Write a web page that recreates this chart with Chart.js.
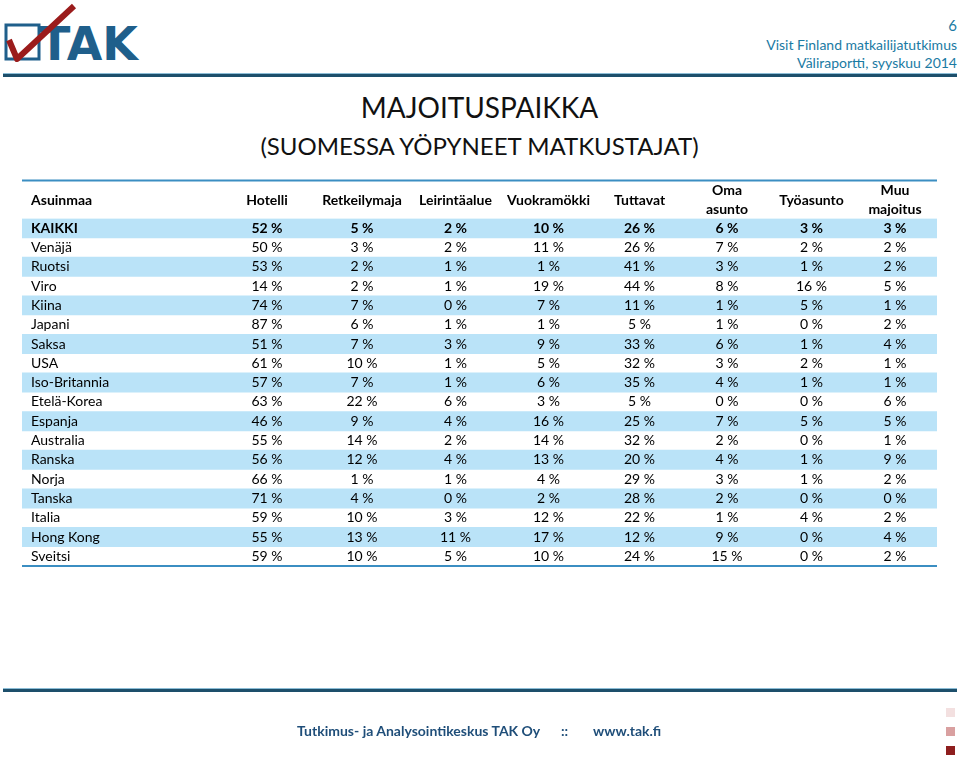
<!DOCTYPE html>
<html>
<head>
<meta charset="utf-8">
<script src="https://cdn.jsdelivr.net/npm/chart.js@4.4.1/dist/chart.umd.min.js"></script>
<style>
  body { margin: 0; background: #fff; width: 959px; height: 760px; position: relative; overflow: hidden; font-family: Lato, "Open Sans", sans-serif; }
  #taulu { position: absolute; left: 0; top: 0; }
  .abs { position: absolute; white-space: nowrap; }
  .topline { left: 3px; width: 954px; top: 73px; height: 3px; background: #1d4f6b; border-top: 1px solid #8cbdd6; }
  .botline { left: 3px; width: 954px; top: 688px; height: 3px; background: #1d4f6b; border-top: 1px solid #8cbdd6; }
  .hdr { right: 2px; text-align: right; color: #1a7aa3; font-size: 14px; line-height: 18px; }
  .title { left: 0; width: 959px; text-align: center; color: #111; }
  .foot { top: 722px; color: #1f4e79; font-weight: bold; font-size: 14px; }
  .sq { width: 9px; height: 9px; left: 946px; }
</style>
</head>
<body>
<svg class="abs" style="left:0;top:0" width="150" height="70">
  <rect x="6" y="25" width="33" height="34" fill="none" stroke="#1f5f8b" stroke-width="3"/>
  <text x="39" y="60" font-family="DejaVu Sans" font-weight="bold" font-size="46" fill="#1f5f8b" textLength="99" lengthAdjust="spacingAndGlyphs">TAK</text>
  <path d="M9 40 L17 59 L74 6" fill="none" stroke="#9b1c1c" stroke-width="6" stroke-linejoin="round"/>
</svg>
<div class="abs hdr" style="top:16px;font-size:15px">6</div>
<div class="abs hdr" style="top:36px">Visit Finland matkailijatutkimus</div>
<div class="abs hdr" style="top:54px">Väliraportti, syyskuu 2014</div>
<div class="abs topline"></div>
<div class="abs title" style="top:90px;font-size:28px">MAJOITUSPAIKKA</div>
<div class="abs title" style="top:131px;font-size:24px">(SUOMESSA YÖPYNEET MATKUSTAJAT)</div>
<canvas id="taulu" width="959" height="760"></canvas>
<div class="abs botline"></div>
<div class="abs foot" style="left:297px">Tutkimus- ja Analysointikeskus TAK Oy</div>
<div class="abs foot" style="left:561px">::</div>
<div class="abs foot" style="left:593px">www.tak.fi</div>
<div class="abs sq" style="top:708px;background:#f3e0e0"></div>
<div class="abs sq" style="top:727px;background:#d9a0a0"></div>
<div class="abs sq" style="top:746px;background:#8e1e1e"></div>
<script>
const otsikko = 'Asuinmaa';
const sarakkeet = ['Hotelli', 'Retkeilymaja', 'Leirintäalue', 'Vuokramökki', 'Tuttavat', 'Oma\nasunto', 'Työasunto', 'Muu\nmajoitus'];
const maat = ['KAIKKI', 'Venäjä', 'Ruotsi', 'Viro', 'Kiina', 'Japani', 'Saksa', 'USA', 'Iso-Britannia',
  'Etelä-Korea', 'Espanja', 'Australia', 'Ranska', 'Norja', 'Tanska', 'Italia', 'Hong Kong', 'Sveitsi'];

const hotelli      = [52, 50, 53, 14, 74, 87, 51, 61, 57, 63, 46, 55, 56, 66, 71, 59, 55, 59];
const retkeilymaja = [5, 3, 2, 2, 7, 6, 7, 10, 7, 22, 9, 14, 12, 1, 4, 10, 13, 10];
const leirintaalue = [2, 2, 1, 1, 0, 1, 3, 1, 1, 6, 4, 2, 4, 1, 0, 3, 11, 5];
const vuokramokki  = [10, 11, 1, 19, 7, 1, 9, 5, 6, 3, 16, 14, 13, 4, 2, 12, 17, 10];
const tuttavat     = [26, 26, 41, 44, 11, 5, 33, 32, 35, 5, 25, 32, 20, 29, 28, 22, 12, 24];
const omaAsunto    = [6, 7, 3, 8, 1, 1, 6, 3, 4, 0, 7, 2, 4, 3, 2, 1, 9, 15];
const tyoasunto    = [3, 2, 1, 16, 5, 0, 1, 2, 1, 0, 5, 0, 1, 1, 0, 4, 0, 0];
const muuMajoitus  = [3, 2, 2, 5, 1, 2, 4, 1, 1, 6, 5, 1, 9, 2, 0, 2, 4, 2];

const arvot = [hotelli, retkeilymaja, leirintaalue, vuokramokki, tuttavat, omaAsunto, tyoasunto, muuMajoitus];

// sarakkeiden leveydet (ensimmäinen = maasarake), x-akseli kulkee näissä yksiköissä
const leveydet = [197, 96, 94, 93, 93, 89, 86, 83, 84];
const reunat = [0];
leveydet.forEach(function(w, i) { reunat.push(reunat[i] + w); });
const keskikohta = function(k) { return (reunat[k] + reunat[k + 1]) / 2; };

const taulukko = {
  id: 'taulukko',
  afterDatasetsDraw(chart) {
    const ctx = chart.ctx;
    const area = chart.chartArea;
    const x = chart.scales.x, y = chart.scales.y;
    ctx.save();

    // viivat
    ctx.strokeStyle = '#3b8ec2';
    ctx.lineWidth = 2;
    ctx.beginPath();
    ctx.moveTo(area.left, area.top - 38); ctx.lineTo(area.right, area.top - 38);
    ctx.moveTo(area.left, area.bottom); ctx.lineTo(area.right, area.bottom);
    ctx.stroke();

    // otsikkorivi
    const hy = area.top - 18.5;
    ctx.fillStyle = '#000';
    ctx.textBaseline = 'middle';
    ctx.font = 'bold 14px Lato';
    ctx.textAlign = 'left';
    ctx.fillText(otsikko, area.left + 9, hy);
    ctx.textAlign = 'center';
    sarakkeet.forEach(function(s, k) {
      const px = x.getPixelForValue(keskikohta(k + 1));
      const rivit = s.split('\n');
      if (rivit.length == 1) ctx.fillText(s, px, hy);
      else {
        ctx.fillText(rivit[0], px, hy - 9.5);
        ctx.fillText(rivit[1], px, hy + 9.5);
      }
    });

    // tietorivit
    maat.forEach(function(maa, i) {
      const py = y.getPixelForValue(i);
      ctx.font = (i == 0 ? 'bold ' : '') + '14px Lato';
      ctx.textAlign = 'left';
      ctx.fillText(maa, area.left + 9, py);
      ctx.textAlign = 'center';
      arvot.forEach(function(sarja, k) {
        ctx.fillText(sarja[i] + ' %', x.getPixelForValue(keskikohta(k + 1)), py);
      });
    });
    ctx.restore();
  }
};

new Chart(document.getElementById('taulu'), {
  type: 'bar',
  data: {
    labels: maat,
    datasets: [{
      data: maat.map(function(m, i) { return i % 2 == 0 ? [0, reunat[reunat.length - 1]] : null; }),
      backgroundColor: '#bae3f8',
      borderWidth: 0,
      barPercentage: 1,
      categoryPercentage: 1
    }]
  },
  options: {
    indexAxis: 'y',
    responsive: false,
    animation: false,
    layout: { padding: { left: 22, right: 22, top: 218.5, bottom: 194 } },
    scales: {
      x: { type: 'linear', min: 0, max: reunat[reunat.length - 1], display: false },
      y: { display: false }
    },
    plugins: { legend: { display: false }, tooltip: { enabled: false } }
  },
  plugins: [taulukko]
});
</script>
</body>
</html>
